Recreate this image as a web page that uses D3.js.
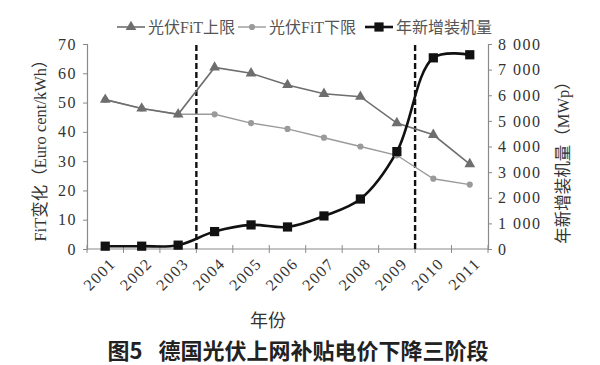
<!DOCTYPE html>
<html><head><meta charset="utf-8">
<script src="https://cdn.jsdelivr.net/npm/d3@7"></script>
<style>
html,body{margin:0;padding:0;background:#fff;}
svg{display:block;}
</style></head>
<body>
<svg id="c" width="600" height="365"></svg>
<script>
const years = ["2001","2002","2003","2004","2005","2006","2007","2008","2009","2010","2011"];
const fitUpper = [51,48,46,62,60,56,53,52,43,39,29];
const fitLower = [51,48,46,46,43,41,38,35,32,24,22];
const installed = [110,110,150,680,940,860,1290,1950,3800,7460,7580];
const leftTicks = [0,10,20,30,40,50,60,70];
const rightTicks = [0,1000,2000,3000,4000,5000,6000,7000,8000];
const phaseBreaks = ["2003","2009"]; // dashed lines after these years
const legendNames = ["光伏FiT上限","光伏FiT下限","年新增装机量"];

const svg = d3.select("#c");
const serif = "'Liberation Serif','Noto Sans CJK SC',serif";
const cjk = "'Liberation Serif','Noto Sans CJK SC',serif";
const L = 87, R = 488, T = 44, B = 249;

const x = d3.scaleBand().domain(years).range([L,R]).padding(0);
const cx = d => x(d) + x.bandwidth()/2;
const yL = d3.scaleLinear().domain([0,70]).range([B,T]);
const yR = d3.scaleLinear().domain([0,8000]).range([B,T]);
const fmt = v => d3.format(",")(v).replace(/,/g," ");

const axisColor = "#8a8a8a";

const gL = svg.append("g").attr("transform",`translate(${L},0)`)
  .call(d3.axisLeft(yL).tickValues(leftTicks).tickSize(4).tickPadding(6));
const gR = svg.append("g").attr("transform",`translate(${R},0)`)
  .call(d3.axisRight(yR).tickValues(rightTicks).tickFormat(fmt).tickSize(4).tickPadding(6));
[gL,gR].forEach(g=>{
  g.select(".domain").attr("stroke",axisColor).attr("stroke-width",1.2);
  g.selectAll(".tick line").attr("stroke",axisColor);
  g.selectAll("text").attr("font-family",serif).attr("font-size",16).attr("fill","#333").attr("letter-spacing","1.5px");
});

svg.append("line").attr("x1",L).attr("x2",R).attr("y1",B).attr("y2",B).attr("stroke",axisColor).attr("stroke-width",1.2);
const bounds = years.map(d=>x(d)).concat([R]);
svg.append("g").selectAll("line").data(bounds).join("line")
  .attr("x1",d=>d).attr("x2",d=>d).attr("y1",B-4).attr("y2",B+4).attr("stroke",axisColor);
svg.append("g").selectAll("text").data(years).join("text")
  .attr("transform",d=>`translate(${cx(d)+9},${B+13}) rotate(-45)`)
  .attr("text-anchor","end").attr("dominant-baseline","middle")
  .attr("font-family",serif).attr("font-size",16).attr("fill","#333").attr("letter-spacing","1.5px")
  .text(d=>d);

phaseBreaks.forEach(yr=>{
  const xx = x(yr) + x.bandwidth();
  svg.append("line").attr("x1",xx).attr("x2",xx).attr("y1",T+1).attr("y2",B)
    .attr("stroke","#111").attr("stroke-width",2.4).attr("stroke-dasharray","6,3");
});

const lineL = d3.line().x((d,i)=>cx(years[i])).y(d=>yL(d));
const lineR = d3.line().x((d,i)=>cx(years[i])).y(d=>yR(d)).curve(d3.curveCatmullRom.alpha(0.5));

svg.append("path").datum(fitLower).attr("d",lineL).attr("fill","none").attr("stroke","#9a9a9a").attr("stroke-width",1.4);
svg.append("path").datum(fitUpper).attr("d",lineL).attr("fill","none").attr("stroke","#6e6e6e").attr("stroke-width",1.6);
svg.append("path").datum(installed).attr("d",lineR).attr("fill","none").attr("stroke","#111").attr("stroke-width",2.6);

const tri = d3.symbol().type(d3.symbolTriangle).size(50);
const dia = d3.symbol().type(d3.symbolCircle).size(30);
const sq = d3.symbol().type(d3.symbolSquare).size(85);

svg.append("g").selectAll("path").data(fitLower).join("path")
  .attr("d",dia).attr("transform",(d,i)=>`translate(${cx(years[i])},${yL(d)})`).attr("fill","#9a9a9a");
svg.append("g").selectAll("path").data(fitUpper).join("path")
  .attr("d",tri).attr("transform",(d,i)=>`translate(${cx(years[i])},${yL(d)})`).attr("fill","#6e6e6e");
svg.append("g").selectAll("path").data(installed).join("path")
  .attr("d",sq).attr("transform",(d,i)=>`translate(${cx(years[i])},${yR(d)})`).attr("fill","#111");

const legend = [
  {x:117, sym:tri, color:"#6e6e6e", w:1.6},
  {x:238, sym:dia, color:"#9a9a9a", w:1.4},
  {x:365, sym:sq, color:"#111", w:2.6}
];
legend.forEach((l,i)=>{
  const g = svg.append("g").attr("transform",`translate(${l.x},27)`);
  g.append("line").attr("x1",0).attr("x2",28).attr("y1",0).attr("y2",0).attr("stroke",l.color).attr("stroke-width",l.w);
  g.append("path").attr("d",l.sym).attr("transform","translate(14,0)").attr("fill",l.color);
  g.append("text").attr("x",31).attr("y",0).attr("dominant-baseline","central")
    .attr("font-family",cjk).attr("font-size",16).attr("fill","#555").text(legendNames[i]);
});

svg.append("text").attr("transform",`translate(40,${(T+B)/2}) rotate(-90)`)
  .attr("text-anchor","middle").attr("dominant-baseline","central")
  .attr("font-family",cjk).attr("font-size",16.5).attr("fill","#333").text("FiT变化（Euro cent/kWh）");
svg.append("text").attr("transform",`translate(563,${(T+B)/2+12}) rotate(-90)`)
  .attr("text-anchor","middle").attr("dominant-baseline","central")
  .attr("font-family",cjk).attr("font-size",16.5).attr("fill","#333").text("年新增装机量（MWp）");
svg.append("text").attr("x",268).attr("y",321).attr("text-anchor","middle").attr("dominant-baseline","central")
  .attr("font-family",cjk).attr("font-size",18).attr("fill","#333").text("年份");

svg.append("text").attr("x",298).attr("y",349).attr("text-anchor","middle").attr("dominant-baseline","central")
  .attr("font-family","'Noto Sans CJK SC',sans-serif").attr("font-weight","bold").attr("font-size",22).attr("fill","#222")
  .attr("xml:space","preserve").text("图5\u2002 德国光伏上网补贴电价下降三阶段");
</script>
</body></html>
